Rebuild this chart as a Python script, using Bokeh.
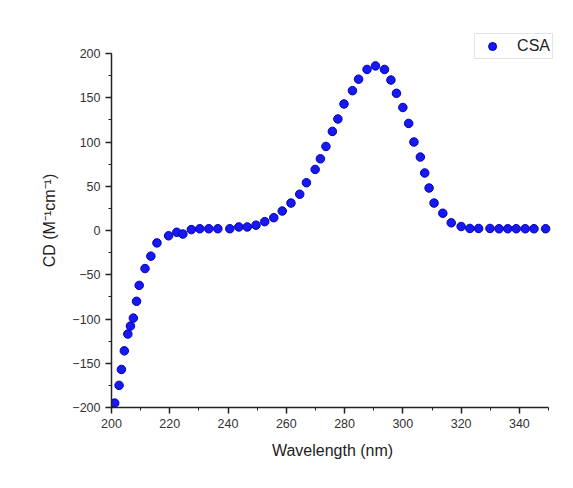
from bokeh.plotting import figure
from bokeh.models import Range1d, Legend, LegendItem, SingleIntervalTicker
from bokeh.embed import file_html
from bokeh.resources import INLINE

wavelength = [201.1, 202.6, 203.4, 204.4, 205.6, 206.5, 207.5, 208.6, 209.5, 211.5,
              213.5, 215.6, 219.6, 222.4, 224.5, 227.4, 230.3, 233.4, 236.5, 240.6,
              243.7, 246.6, 249.6, 252.6, 255.7, 258.6, 261.6, 264.6, 266.9, 269.9,
              271.7, 273.6, 275.8, 277.7, 279.8, 282.7, 284.8, 287.7, 290.6, 293.7,
              295.9, 297.8, 300.0, 302.0, 303.8, 306.0, 307.5, 309.0, 310.7, 313.7,
              316.6, 320.0, 323.0, 326.0, 329.9, 333.0, 336.0, 338.9, 342.0, 345.0,
              349.0]
cd = [-195, -175, -157, -136, -117, -108, -99, -80, -62, -43,
      -29, -14, -6, -2, -4, 1, 2, 2, 2, 2,
      4, 4, 6, 10, 14.5, 22, 31, 41, 54, 69,
      81, 95, 112, 126, 143, 158, 171, 182, 186, 182,
      170, 155, 139, 121, 100, 83, 65, 48, 31, 19.5,
      8.7, 4.5, 2.3, 2.3, 2.3, 2, 2, 2, 2, 2,
      2]
series_name = "CSA"

# frame slightly larger than the axes so the legend can sit above the 200 tick
p = figure(width=573, height=488, output_backend="svg", toolbar_location=None,
           x_range=Range1d(200, 351.7), y_range=Range1d(-200, 222.6),
           min_border_left=111, min_border_right=20, min_border_top=33, min_border_bottom=81)
p.outline_line_color = None
p.xgrid.visible = False
p.ygrid.visible = False

r = p.scatter(wavelength, cd, size=8.5, fill_color="#1818f4", line_color="#0000b0", line_width=1)

font = "Liberation Sans"
for ax in (p.xaxis[0], p.yaxis[0]):
    ax.axis_line_color = "#222222"
    ax.axis_line_width = 1.5
    ax.major_tick_line_color = "#222222"
    ax.minor_tick_line_color = "#222222"
    ax.major_tick_line_width = 1.5
    ax.major_tick_out = 6
    ax.major_tick_in = 0
    ax.minor_tick_out = 3
    ax.minor_tick_in = 0
    ax.major_label_text_font = font
    ax.major_label_text_font_size = "12.5px"
    ax.major_label_text_color = "#333333"
    ax.axis_label_text_font = font
    ax.axis_label_text_font_size = "16px"
    ax.axis_label_text_font_style = "normal"
    ax.axis_label_text_color = "#222222"

p.xaxis.bounds = (200, 350)
p.yaxis.bounds = (-200, 200)
p.xaxis.ticker = SingleIntervalTicker(interval=20, num_minor_ticks=2)
p.yaxis.ticker = SingleIntervalTicker(interval=50, num_minor_ticks=2)
p.xaxis.axis_label = "Wavelength (nm)"
p.yaxis.axis_label = "CD (M\u207b\u00b9cm\u207b\u00b9)"
p.xaxis.axis_label_standoff = 11
p.yaxis.axis_label_standoff = 11

legend = Legend(items=[LegendItem(label=series_name, renderers=[r])],
                location="top_right")
legend.label_text_font = font
legend.label_text_font_size = "16px"
legend.label_text_color = "#222222"
legend.border_line_color = "#c8c8c8"
legend.background_fill_alpha = 0.0
legend.padding = 2
legend.margin = 0
legend.glyph_width = 30
legend.label_standoff = 10
p.add_layout(legend, "center")

open("out.html", "w").write(file_html(p, INLINE))
